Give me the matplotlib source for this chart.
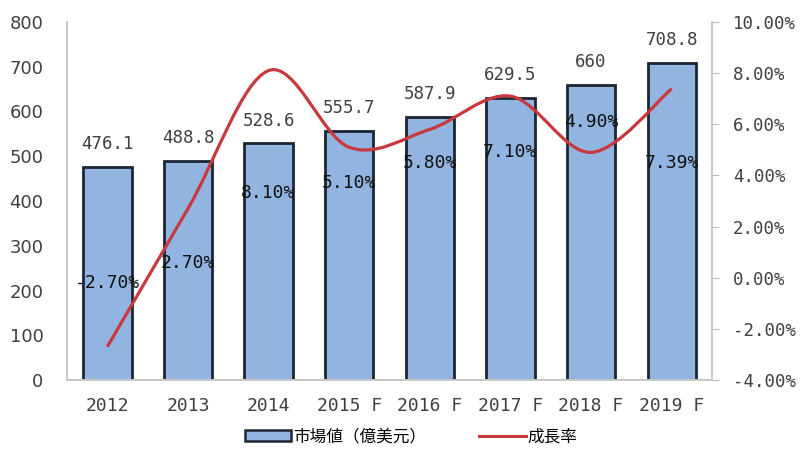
import numpy as np
import matplotlib
matplotlib.use("Agg")
import matplotlib.pyplot as plt
from matplotlib.path import Path
from matplotlib.patches import PathPatch, Patch
from matplotlib.lines import Line2D

plt.rcParams['font.family'] = ['DejaVu Sans Mono', 'Noto Sans CJK JP']
plt.rcParams['axes.unicode_minus'] = False

# data
years = ['2012', '2013', '2014', '2015 F', '2016 F', '2017 F', '2018 F', '2019 F']
market = [476.1, 488.8, 528.6, 555.7, 587.9, 629.5, 660, 708.8]
market_txt = ['476.1', '488.8', '528.6', '555.7', '587.9', '629.5', '660', '708.8']
growth = [-2.7, 2.7, 8.1, 5.1, 5.8, 7.1, 4.9, 7.39]
growth_txt = ['-2.70%', '2.70%', '8.10%', '5.10%', '5.80%', '7.10%', '4.90%', '7.39%']
# where the growth labels sit (right axis units), as placed in the original
growth_lbl_y = [-0.2, 0.57, 3.31, 3.7, 4.48, 4.92, 6.09, 4.49]

bar_face = '#91B5E0'
bar_edge = '#1C2633'
line_col = '#C8383C'
grey = '#404040'

fig = plt.figure(figsize=(8.02, 4.55), dpi=100)
ax = fig.add_axes([67/802, 75/455, (712-67)/802, (380-22)/455])
ax2 = ax.twinx()

x = np.arange(len(years))
ax.bar(x, market, width=0.6, color=bar_face, edgecolor=bar_edge, linewidth=2, zorder=2)
for xi, v, t in zip(x, market, market_txt):
    ax.annotate(t, (xi, v), xytext=(0, 10), textcoords='offset points',
                ha='center', va='bottom', fontsize=12.5, color=grey)

ax.set_xlim(-0.5, len(years) - 0.5)
ax.set_ylim(0, 800)
ax.set_yticks(range(0, 801, 100))
ax.set_yticklabels([str(v) for v in range(0, 801, 100)], fontsize=13, color=grey,
                   family='DejaVu Sans')
ax.set_xticks(x)
ax.set_xticklabels(years, fontsize=13, color=grey)
ax.tick_params(axis='y', length=0, pad=17)
ax.tick_params(axis='x', length=0, pad=12)

# smoothed growth curve (Excel-style cubic Bezier through the points)
pts = np.column_stack([x, growth]).astype(float)
ext = np.vstack([pts[0], pts, pts[-1]])
verts = [tuple(pts[0])]
codes = [Path.MOVETO]
for i in range(len(pts) - 1):
    p0, p1, p2, p3 = ext[i], ext[i+1], ext[i+2], ext[i+3]
    c1 = p1 + (p2 - p0) / 6
    c2 = p2 - (p3 - p1) / 6
    verts += [tuple(c1), tuple(c2), tuple(p2)]
    codes += [Path.CURVE4] * 3
ax2.add_patch(PathPatch(Path(verts, codes), facecolor='none', edgecolor=line_col,
                        linewidth=2.3, zorder=3))

for xi, ly, t in zip(x, growth_lbl_y, growth_txt):
    ax2.text(xi, ly, t, ha='center', va='center', fontsize=13, color='#111111', zorder=4)

ax2.set_ylim(-4, 10)
ax2.set_yticks(range(-4, 11, 2))
ax2.set_yticklabels([f'{v:.2f}%' for v in range(-4, 11, 2)], fontsize=12.5, color=grey)
ax2.tick_params(axis='y', length=5, color='#BBBBBB', pad=10)

for a in (ax, ax2):
    a.spines['top'].set_visible(False)
    for s in ('left', 'right', 'bottom'):
        a.spines[s].set_color('#C8C8C8')
        a.spines[s].set_linewidth(1.2)

handles = [Patch(facecolor=bar_face, edgecolor=bar_edge, linewidth=1.8),
           Line2D([0], [0], color=line_col, linewidth=2.2)]
fig.legend(handles, ['市場値（億美元）', '成長率'], loc='center',
           bbox_to_anchor=(411/802, 1 - 437/455), ncol=2, frameon=False,
           prop={'family': ['Noto Sans CJK JP'], 'size': 12},
           handlelength=2.8, handleheight=0.6, handletextpad=0.1, columnspacing=3.2)

fig.savefig('out.png', dpi=100)
